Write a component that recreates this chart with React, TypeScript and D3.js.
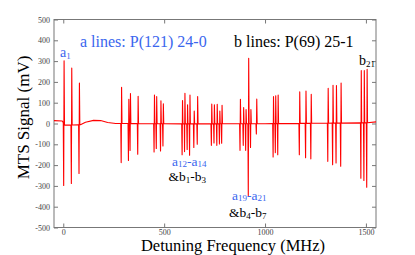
import React, { useEffect, useRef } from "react";
import * as d3 from "d3";

// MTS spectrum (MHz / mV)
const linePos = [3, 41, 79, 288, 324, 332, 370, 451, 462, 483, 495, 590, 602, 615, 627, 648, 665,
  735, 748, 762, 775, 786, 877, 893, 905, 918, 929, 958, 1041, 1052, 1064, 1171, 1202, 1228,
  1312, 1336, 1353, 1376, 1476, 1491, 1505];
const linePeak = [302, 266, 195, 174, 116, 144, 131, 137, 129, 109, 95, 110, 145, 90, 137, 60, 130,
  93, 90, 92, 60, 88, 116, 77, 67, 314, 67, 117, 129, 133, 137, 152, 156, 140,
  169, 184, 183, 195, 254, 254, 260];
const lineDip = [-298, -288, -240, -188, -178, -130, -148, -137, -120, -132, -108, -150, -135, -125, -153, -115, -100,
  -105, -94, -105, -98, -95, -129, -105, -129, -346, -115, -50, -161, -140, -150, -150, -165, -170,
  -182, -198, -190, -205, -263, -274, -306];
const baseX = [-46, -5, 8, 85, 110, 150, 185, 220, 260, 600, 1000, 1500, 1550];
const baseY = [14, 12, -8, -6, 6, 15, 14, 5, 0, -2, -1, 3, 8];

const yTicks = [-500, -400, -300, -200, -100, 0, 100, 200, 300, 400, 500];
const xTicks = [0, 500, 1000, 1500];

const W = 415, H = 255;
const L = 54, R = 376, T = 19.5, B = 227.5;
const blue = "#3a66ee";
const serif = "'Liberation Serif', 'Times New Roman', serif";

export default function App() {
  const ref = useRef<SVGGElement>(null);
  const x = d3.scaleLinear().domain([-46, 1550]).range([L, R]);
  const y = d3.scaleLinear().domain([-500, 500]).range([B, T]);
  const base = d3.scaleLinear().domain(baseX).range(baseY);

  // trace: baseline knots plus a dip/peak pair for every line
  const pts: [number, number][] = baseX.map((v, i) => [v, baseY[i]]);
  linePos.forEach((c, i) => {
    pts.push([c - 3, base(c - 3)], [c - 1, lineDip[i]], [c + 1, linePeak[i]], [c + 3, base(c + 3)]);
  });
  pts.sort((a, b) => a[0] - b[0]);
  const path = d3.line<[number, number]>().x(d => x(d[0])).y(d => y(d[1]))(pts) || "";

  useEffect(() => {
    const g = d3.select(ref.current);
    g.selectAll("*").remove();
    const fmt = (d: any) => String(d);
    g.append("g").attr("transform", `translate(${L},0)`)
      .call(d3.axisLeft(y).tickValues(yTicks).tickSize(-4).tickPadding(4).tickFormat(fmt));
    g.append("g").attr("transform", `translate(${R},0)`)
      .call(d3.axisRight(y).tickValues(yTicks).tickSize(-4).tickFormat(() => ""));
    g.append("g").attr("transform", `translate(0,${B})`)
      .call(d3.axisBottom(x).tickValues(xTicks).tickSize(-4).tickPadding(2).tickFormat(fmt));
    g.append("g").attr("transform", `translate(0,${T})`)
      .call(d3.axisTop(x).tickValues(xTicks).tickSize(-4).tickFormat(() => ""));
    g.selectAll(".domain").remove();
    g.selectAll(".tick line").attr("stroke", "#777");
    g.selectAll(".tick text").attr("font-family", serif).attr("font-size", 8).attr("fill", "#444");
  }, []);

  const sub = (t: string) => <tspan fontSize={9} dy={1.5}>{t}</tspan>;
  const up = (t: string) => <tspan dy={-1.5}>{t}</tspan>;

  return (
    <svg width={W} height={H} style={{ position: "absolute", left: 0, top: 0, background: "#fff" }}
      fontFamily={serif}>
      <rect x={L} y={T} width={R - L} height={B - T} fill="none" stroke="#777" strokeWidth={1} />
      <g ref={ref} />
      <path d={path} fill="none" stroke="#ff0000" strokeWidth={1.1} strokeLinejoin="round" />

      <text x={80} y={47} fontSize={16} fill={blue}>a lines: P(121) 24-0</text>
      <text x={234} y={47} fontSize={16} fill="#000">b lines: P(69) 25-1</text>

      <text x={60} y={57} fontSize={14} fill={blue}>a{sub("1")}</text>
      <text x={359} y={65} fontSize={14} fill="#000">b{sub("21")}</text>

      <text x={172} y={165.5} fontSize={13.5} fill={blue}>a{sub("12")}{up("-a")}{sub("14")}</text>
      <text x={168.5} y={181} fontSize={13.5} fill="#000">&amp;b{sub("1")}{up("-b")}{sub("3")}</text>
      <text x={232} y={199.5} fontSize={13.5} fill={blue}>a{sub("19")}{up("-a")}{sub("21")}</text>
      <text x={229} y={217} fontSize={13.5} fill="#000">&amp;b{sub("4")}{up("-b")}{sub("7")}</text>

      <text x={233} y={251} fontSize={16.5} textAnchor="middle" fill="#000">Detuning Frequency (MHz)</text>
      <text transform="translate(29,117.5) rotate(-90)" fontSize={17} textAnchor="middle" fill="#000">MTS Signal (mV)</text>
    </svg>
  );
}
